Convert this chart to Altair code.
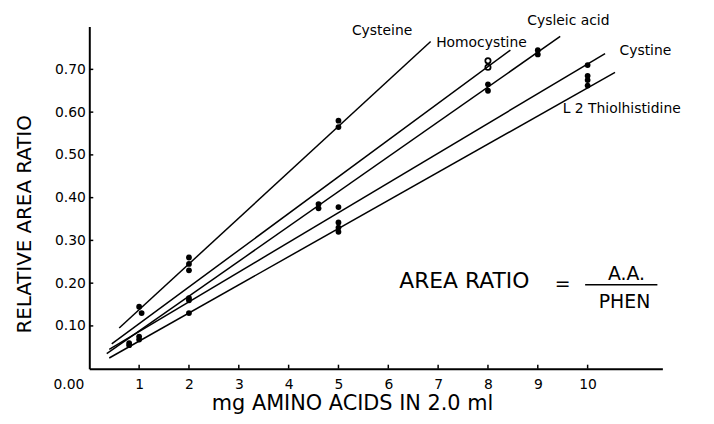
import altair as alt
import pandas as pd

FONT = "DejaVu Sans"

# Fitted lines (start/end in data units)
compounds = ["Cysteine", "Homocystine", "Cysteic acid", "Cystine", "L 2 Thiolhistidine"]
line_x0 = [0.6, 0.45, 0.35, 0.40, 0.40]
line_y0 = [0.095, 0.058, 0.035, 0.045, 0.025]
line_x1 = [6.85, 8.45, 9.45, 10.35, 10.55]
line_y1 = [0.765, 0.745, 0.777, 0.737, 0.693]

# Measured points
cys_x = [1.0, 1.05, 2.0, 2.0, 5.0, 5.0]
cys_y = [0.145, 0.13, 0.26, 0.245, 0.58, 0.565]
homo_x = [2.0, 8.0, 8.0]
homo_y = [0.23, 0.72, 0.705]
homo_filled = [True, False, False]
acid_x = [0.8, 2.0, 4.6, 4.6, 8.0, 8.0, 9.0, 9.0]
acid_y = [0.06, 0.165, 0.385, 0.375, 0.665, 0.65, 0.745, 0.735]
cyst_x = [1.0, 2.0, 5.0, 10.0]
cyst_y = [0.075, 0.16, 0.378, 0.71]
thio_x = [0.8, 1.0, 2.0, 5.0, 5.0, 5.0, 10.0, 10.0, 10.0]
thio_y = [0.055, 0.068, 0.13, 0.342, 0.33, 0.32, 0.685, 0.675, 0.662]

# Curve labels
label_text = ["Cysteine", "Homocystine", "Cysleic acid", "Cystine", "L 2 Thiolhistidine"]
label_x = [5.27, 6.96, 8.79, 10.64, 9.50]
label_y = [0.789, 0.761, 0.812, 0.742, 0.608]

x_ticks = [1, 2, 3, 4, 5, 6, 7, 8, 9, 10]
y_ticks = [0.1, 0.2, 0.3, 0.4, 0.5, 0.6, 0.7]

lines_df = pd.DataFrame({"compound": compounds, "x0": line_x0, "y0": line_y0,
                         "x1": line_x1, "y1": line_y1})

pts = []
for name, xs_, ys_, fl in [("Cysteine", cys_x, cys_y, [True] * len(cys_x)),
                           ("Homocystine", homo_x, homo_y, homo_filled),
                           ("Cysteic acid", acid_x, acid_y, [True] * len(acid_x)),
                           ("Cystine", cyst_x, cyst_y, [True] * len(cyst_x)),
                           ("L 2 Thiolhistidine", thio_x, thio_y, [True] * len(thio_x))]:
    for xv, yv, f in zip(xs_, ys_, fl):
        pts.append({"compound": name, "x": xv, "y": yv, "filled": f})
pts_df = pd.DataFrame(pts)

labels_df = pd.DataFrame({"text": label_text, "x": label_x, "y": label_y})

xs = alt.Scale(domain=[0, 11.5], nice=False, zero=False)
ys = alt.Scale(domain=[0, 0.8], nice=False, zero=False)

base_x = alt.X("x0:Q", scale=xs,
               axis=alt.Axis(values=x_ticks, format="d", title="mg AMINO ACIDS IN 2.0 ml",
                             tickSize=0, labelPadding=9, labelFontSize=14,
                             titleFontSize=21, titleFontWeight="normal",
                             titleX=265, titleY=41, titleAlign="center",
                             titleBaseline="alphabetic", grid=False))
base_y = alt.Y("y0:Q", scale=ys,
               axis=alt.Axis(values=y_ticks, format=".2f", title="RELATIVE AREA RATIO",
                             tickSize=0, labelPadding=4, labelFontSize=14,
                             titleFontSize=20, titleFontWeight="normal",
                             titleX=-65, titleY=199, titleAngle=270,
                             titleAlign="center", titleBaseline="middle", grid=False))

fit_lines = alt.Chart(lines_df).mark_rule(color="black", strokeWidth=1.5).encode(
    x=base_x, y=base_y, x2="x1:Q", y2="y1:Q")

filled_pts = alt.Chart(pts_df[pts_df["filled"]]).mark_point(
    shape="circle", filled=True, color="black", size=34, opacity=1).encode(
    x=alt.X("x:Q", scale=xs), y=alt.Y("y:Q", scale=ys))
open_pts = alt.Chart(pts_df[~pts_df["filled"]]).mark_point(
    shape="circle", filled=False, color="black", size=28, strokeWidth=1.8, opacity=1).encode(
    x=alt.X("x:Q", scale=xs), y=alt.Y("y:Q", scale=ys))

curve_labels = alt.Chart(labels_df).mark_text(
    align="left", baseline="middle", font=FONT, fontSize=14, color="black").encode(
    x=alt.X("x:Q", scale=xs), y=alt.Y("y:Q", scale=ys), text="text:N")

# inward tick marks
xt_df = pd.DataFrame({"x": x_ticks})
x_tick_marks = alt.Chart(xt_df).mark_rule(color="black", strokeWidth=1.5).encode(
    x=alt.X("x:Q", scale=xs), y=alt.value(345), y2=alt.value(341))
yt_df = pd.DataFrame({"y": y_ticks})
y_tick_marks = alt.Chart(yt_df).mark_rule(color="black", strokeWidth=1.5).encode(
    y=alt.Y("y:Q", scale=ys), x=alt.value(0), x2=alt.value(4))

# origin label
origin_df = pd.DataFrame({"x": [0.0], "y": [0.0], "t": ["0.00"]})
origin_label = alt.Chart(origin_df).mark_text(
    align="right", baseline="middle", font=FONT, fontSize=14, dx=-5, dy=16, color="black").encode(
    x=alt.X("x:Q", scale=xs), y=alt.Y("y:Q", scale=ys), text="t:N")

# formula annotation
formula_text = ["AREA RATIO", "=", "A.A.", "PHEN"]
formula_x = [6.22, 9.5, 10.78, 10.74]
formula_y = [0.204, 0.197, 0.222, 0.155]
formula_align = ["left", "center", "center", "center"]
formula_df = pd.DataFrame({"t": formula_text, "x": formula_x, "y": formula_y, "a": formula_align})
f_left = alt.Chart(formula_df[formula_df["a"] == "left"]).mark_text(
    align="left", baseline="middle", font=FONT, fontSize=22, color="black").encode(
    x=alt.X("x:Q", scale=xs), y=alt.Y("y:Q", scale=ys), text="t:N")
f_center = alt.Chart(formula_df[formula_df["a"] == "center"]).mark_text(
    align="center", baseline="middle", font=FONT, fontSize=19, color="black").encode(
    x=alt.X("x:Q", scale=xs), y=alt.Y("y:Q", scale=ys), text="t:N")
frac_df = pd.DataFrame({"x": [9.95], "x2": [11.4], "y": [0.196]})
frac_line = alt.Chart(frac_df).mark_rule(color="black", strokeWidth=1.5).encode(
    x=alt.X("x:Q", scale=xs), x2="x2:Q", y=alt.Y("y:Q", scale=ys))

chart = alt.layer(
    fit_lines, filled_pts, open_pts, curve_labels, x_tick_marks, y_tick_marks,
    origin_label, f_left, f_center, frac_line
).properties(
    width=578, height=345,
    autosize=alt.AutoSizeParams(type="none"),
    padding={"left": 82, "top": 17, "right": 44, "bottom": 50},
    background="white",
).configure_view(stroke=None).configure_axis(
    domainColor="black", domainWidth=2, labelColor="black", titleColor="black",
    labelFont=FONT, titleFont=FONT
)

chart.save("out.html", embed_options={"renderer": "svg", "actions": False})
